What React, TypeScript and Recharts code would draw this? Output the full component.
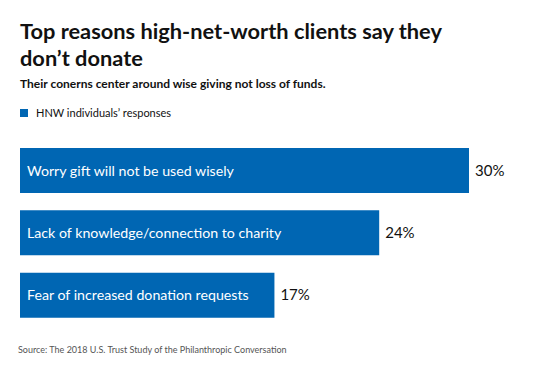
import React from 'react';
import { BarChart, Bar, XAxis, YAxis, LabelList } from 'recharts';

const reasons = [
  'Worry gift will not be used wisely',
  'Lack of knowledge/connection to charity',
  'Fear of increased donation requests',
];
const shares = [30, 24, 17];

const BLUE = '#0066b3';
const FONT = 'Lato, "Open Sans", sans-serif';

const data = reasons.map((name, i) => ({ name, value: shares[i] }));

export default function App() {
  return (
    <div style={{ position: 'absolute', left: 0, top: 0, width: 547, height: 371, background: '#fff', fontFamily: FONT, color: '#111' }}>
      <div style={{ position: 'absolute', left: 20, top: 17, width: 430, fontSize: 21.8, fontWeight: 700, lineHeight: '27px' }}>
        Top reasons high-net-worth clients say they don’t donate
      </div>
      <div style={{ position: 'absolute', left: 20, top: 76, fontSize: 12, fontWeight: 700 }}>
        Their conerns center around wise giving not loss of funds.
      </div>
      <div style={{ position: 'absolute', left: 20, top: 106, fontSize: 11, display: 'flex', alignItems: 'center' }}>
        <span style={{ display: 'inline-block', width: 8, height: 8, background: BLUE, marginRight: 8 }} />
        HNW individuals’ responses
      </div>
      <div style={{ position: 'absolute', left: 0, top: 0 }}>
        <BarChart
          width={547}
          height={371}
          data={data}
          layout="vertical"
          margin={{ top: 139, right: 78, bottom: 45, left: 20 }}
        >
          <XAxis type="number" domain={[0, 30]} hide />
          <YAxis type="category" dataKey="name" hide />
          <Bar dataKey="value" fill={BLUE} barSize={45} isAnimationActive={false}>
            <LabelList dataKey="name" position="insideLeft" offset={7} fill="#fff" fontSize={14.2} fontFamily={FONT} />
            <LabelList
              dataKey="value"
              position="right"
              offset={6}
              fill="#111"
              fontSize={15}
              fontFamily={FONT}
              formatter={(v: any) => `${v}%`}
            />
          </Bar>
        </BarChart>
      </div>
      <div style={{ position: 'absolute', left: 18, top: 344, fontSize: 9, color: '#555' }}>
        Source: The 2018 U.S. Trust Study of the Philanthropic Conversation
      </div>
    </div>
  );
}
